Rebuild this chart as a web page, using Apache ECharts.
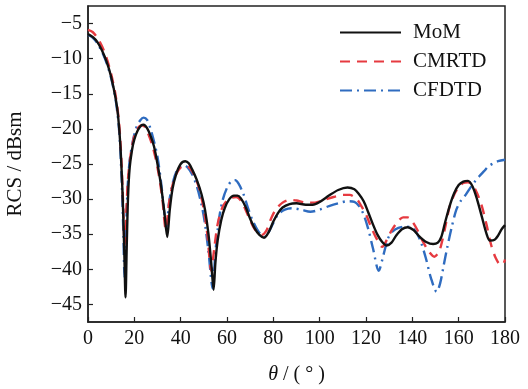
<!DOCTYPE html>
<html><head><meta charset="utf-8">
<script src="https://cdn.jsdelivr.net/npm/echarts@6/dist/echarts.min.js"></script>
<style>html,body{margin:0;padding:0;background:#fff}#c{width:528px;height:389px}</style>
</head><body><div id="c"></div>
<script>
var seriesNames = ['MoM', 'CMRTD', 'CFDTD'];
var xTicks = [0, 20, 40, 60, 80, 100, 120, 140, 160, 180];
var yTicks = [-45, -40, -35, -30, -25, -20, -15, -10, -5];

var thetaMoM = [0,2,4,6,8,10,12,13,14,15,15.7,16.2,16.7,17.3,18,19,20,21.5,23,24,25.5,27,28.5,30,31.5,33,34.2,35.3,36.5,38,40,42,43.5,45,47,49,50.5,52,53.3,54.2,55,56,57.5,59,61,63,64.5,66,68,70,72,74,76,78,80,82,84,87,90,94,97,100,104,108,112,115,117,119,121,123,125,127,129,131,133,135.5,138,140.5,143,146,149,151,152.5,154,156,158,160,162,164,166,168,170,172,173.5,175.5,177,178.5,180];
var rcsMoM = [-6.5,-6.9,-7.6,-8.8,-10.4,-12.6,-15.8,-18.2,-22.5,-30,-38,-44,-37,-29.5,-25.5,-23,-21.5,-20.2,-19.5,-19.4,-19.9,-21,-22.5,-25,-28,-32,-35.4,-31.5,-28.5,-26.5,-25,-24.6,-24.9,-25.8,-27.3,-29.3,-31.5,-35,-39.5,-42.9,-39,-35.8,-33,-31.3,-30,-29.5,-29.5,-29.9,-31.1,-32.8,-34.2,-35.1,-35.5,-34.7,-33.2,-32,-31.2,-30.7,-30.6,-30.8,-30.8,-30.4,-29.5,-28.7,-28.35,-28.6,-29.3,-30.3,-31.9,-33.6,-35.1,-36.1,-36.6,-36.2,-35.2,-34.3,-34,-34.4,-35.3,-36.1,-36.4,-36.2,-35.4,-33.5,-31.1,-29.2,-28,-27.5,-27.4,-28.2,-30.1,-32.5,-34.9,-35.9,-35.8,-35.2,-34.3,-33.7];

var thetaCMRTD = [0,2,4,6,8,10,12,13.5,14.5,15.2,15.8,16.5,17.3,18.5,20,21.5,23,24.5,26,28,30,32,33.6,35,36.5,38,40,42,44,46,48,50,51.5,53.2,54.5,56,58,60,62,64,66,68,70,72,75,77,79,81,84,87,90,94,98,102,106,110,113,116,118,120,122,124.5,127,129,131,133.5,136,138,140,142,144.5,147,149.5,151.5,153,154.5,156,158,160,162,164,166,168,170,172,174,176,178,179,180];
var rcsCMRTD = [-5.9,-6.2,-7.0,-8.2,-9.9,-12.2,-15.4,-19.5,-25,-31,-36.5,-32,-27,-23.5,-21,-19.9,-19.5,-19.7,-20.7,-22.6,-25.5,-29.7,-34.3,-30.5,-28,-26.5,-25.5,-25.2,-25.6,-26.7,-28.5,-31.5,-35,-40.2,-37,-33.5,-31.2,-30.2,-29.8,-29.7,-30.2,-31.5,-33,-34.3,-35.1,-34.5,-32.8,-31.5,-30.5,-30.1,-30.2,-30.5,-30.5,-30.1,-29.7,-29.4,-29.4,-30,-31,-32.2,-33.8,-35.6,-36.8,-35.8,-34.5,-33.3,-32.6,-32.6,-33.2,-34.3,-36,-37.4,-38.2,-37.5,-35.8,-33.5,-31.2,-29.4,-28.3,-27.7,-27.6,-28,-29.2,-31,-33.6,-36.5,-38.4,-39.3,-39.3,-38.6];

var thetaCFDTD = [0,2,4,6,8,10,12,13.5,14.5,15.2,15.8,16.3,17,18,19.5,21,22.5,24,25.5,27,28.5,30,31.5,32.8,33.8,35,36.5,38,40,41.5,43,45,47,49,50.5,52,53.8,55,56.5,58,60,62,63.5,65,67,69,71,73,75,76.5,78,80,82,85,88,92,96,100,104,108,112,115,117,119,121,123,125.5,127.5,129.5,131.5,134,137,140,142,144,146,148,150.5,152,153.5,155,157,159,161,163,165,167,169,171,173,175,177,180];
var rcsCFDTD = [-6.6,-7.0,-7.8,-9.0,-10.6,-12.8,-16,-20.5,-27,-34,-41.2,-37,-29,-24.5,-21.5,-19.7,-18.8,-18.4,-18.7,-20,-21.8,-24,-27.5,-31.5,-34.2,-30.5,-27.8,-26.2,-25.3,-25.2,-25.5,-26.5,-28.2,-30.8,-33.5,-37.5,-42.7,-37.5,-33,-30.3,-28.4,-27.4,-27.3,-27.8,-29.2,-31.2,-33,-34.3,-35.2,-35.4,-34.7,-33.4,-32.2,-31.5,-31.3,-31.5,-31.8,-31.5,-31,-30.6,-30.3,-30.4,-31,-32.2,-34.3,-37,-40.2,-38,-35.6,-34.6,-34.1,-33.9,-34.1,-34.9,-36.4,-38.6,-41.2,-43.2,-42,-39.5,-37,-34,-31.5,-30.2,-29.4,-28.4,-27.5,-26.7,-26,-25.3,-24.9,-24.6,-24.4];

function pairs(xs, ys) { return xs.map(function (x, i) { return [x, ys[i]]; }); }
var FONT = 'Liberation Serif, Times New Roman, Tinos, serif';
var chart = echarts.init(document.getElementById('c'), null, { renderer: 'canvas' });
var colors = ['#111111', '#e63a40', '#2f6cc0'];
var dashes = ['solid', [10, 7], [12, 5, 2, 5]];
var ys = [rcsMoM, rcsCMRTD, rcsCFDTD], xs = [thetaMoM, thetaCMRTD, thetaCFDTD];
chart.setOption({
  animation: false,
  backgroundColor: '#ffffff',
  grid: { left: 88, right: 23, top: 6, bottom: 67, containLabel: false, outerBoundsMode: 'none',
    show: true, borderColor: '#222', borderWidth: 1.5, backgroundColor: 'transparent' },
  legend: {
    orient: 'vertical', left: 339, top: 22, padding: 0, itemWidth: 61, itemHeight: 14, itemGap: 8,
    data: seriesNames,
    itemStyle: { opacity: 0 },
    textStyle: { fontFamily: FONT, fontSize: 21, color: '#111', lineHeight: 21, padding: [0, 0, 0, 7] }
  },
  xAxis: {
    type: 'value', min: 0, max: 180, interval: 20,
    name: '{i|θ} / ( ° )', nameLocation: 'middle', nameGap: 43,
    nameTextStyle: { fontFamily: FONT, fontSize: 20, color: '#111', rich: { i: { fontFamily: FONT, fontStyle: 'italic', fontSize: 20, color: '#111' } } },
    axisLine: { lineStyle: { color: '#222', width: 1.5 } },
    axisTick: { inside: true, length: 5, lineStyle: { color: '#222', width: 1.2 } },
    axisLabel: { fontFamily: FONT, fontSize: 20, color: '#111', margin: 7, customValues: xTicks },
    splitLine: { show: false }
  },
  yAxis: {
    type: 'value', min: -47.5, max: -2.5,
    name: 'RCS / dBsm', nameLocation: 'middle', nameGap: 62, nameRotate: 90,
    nameTextStyle: { fontFamily: FONT, fontSize: 21, color: '#111' },
    axisLine: { lineStyle: { color: '#222', width: 1.5 } },
    axisTick: { inside: true, length: 5, customValues: yTicks, lineStyle: { color: '#222', width: 1.2 } },
    axisLabel: { fontFamily: FONT, fontSize: 20, color: '#111', margin: 6, customValues: yTicks,
      formatter: function (v) { return String(v).replace('-', '\u2212'); } },
    splitLine: { show: false }
  },
  series: seriesNames.map(function (n, k) {
    return {
      name: n, type: 'line', data: pairs(xs[k], ys[k]), showSymbol: false, symbol: 'none',
      smooth: 0.3, z: 3 - k,
      color: colors[k],
      lineStyle: { color: colors[k], width: 2.4, type: dashes[k] }
    };
  })
});
</script></body></html>
